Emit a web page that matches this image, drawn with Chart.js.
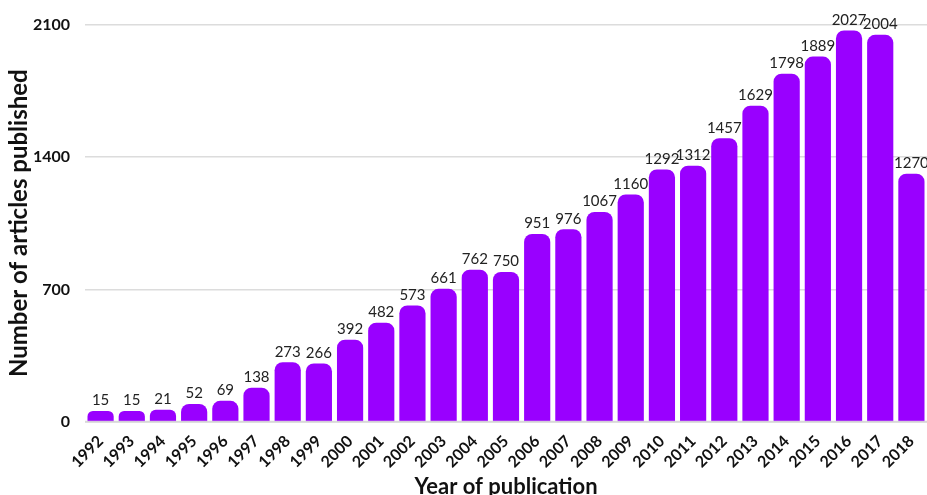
<!DOCTYPE html>
<html>
<head>
<meta charset="utf-8">
<title>Articles published per year</title>
<script src="https://cdn.jsdelivr.net/npm/chart.js@4.4.1/dist/chart.umd.min.js"></script>
<style>
  html, body { margin: 0; padding: 0; background: #fff; overflow: hidden; }
  #wrap { width: 927px; height: 495px; position: relative; }
</style>
</head>
<body>
<div id="wrap"><canvas id="articlesChart"></canvas></div>
<script>
// ── Data ───────────────────────────────────────────────────────
const years = ["1992","1993","1994","1995","1996","1997","1998","1999","2000","2001",
               "2002","2003","2004","2005","2006","2007","2008","2009","2010","2011",
               "2012","2013","2014","2015","2016","2017","2018"];
const articles = [15, 15, 21, 52, 69, 138, 273, 266, 392, 482,
                  573, 661, 762, 750, 951, 976, 1067, 1160, 1292, 1312,
                  1457, 1629, 1798, 1889, 2027, 2004, 1270];
const yTicks = [0, 700, 1400, 2100];

// ── Style ──────────────────────────────────────────────────────
const PURPLE = "#9900FF";
const FONT   = "Lato, 'Open Sans', sans-serif";
const LIFT   = 42;   // bars sit a little proud of the grid

// value labels above each bar
const valueLabels = {
  id: "valueLabels",
  afterDatasetsDraw(chart) {
    const { ctx } = chart;
    const meta = chart.getDatasetMeta(0);
    ctx.save();
    ctx.font = "400 15px " + FONT;
    ctx.fillStyle = "#222";
    ctx.textAlign = "center";
    ctx.textBaseline = "bottom";
    meta.data.forEach((bar, i) => {
      ctx.fillText(String(articles[i]), bar.x, bar.y - 3);
    });
    ctx.restore();
  }
};

// zero line drawn over the bars
const zeroLine = {
  id: "zeroLine",
  afterDatasetsDraw(chart) {
    const { ctx, chartArea, scales } = chart;
    const y = scales.y.getPixelForValue(0);
    ctx.save();
    ctx.strokeStyle = "rgba(215,215,215,0.9)";
    ctx.lineWidth = 2;
    ctx.beginPath();
    ctx.moveTo(chartArea.left, y);
    ctx.lineTo(chartArea.right, y);
    ctx.stroke();
    ctx.restore();
  }
};

new Chart(document.getElementById("articlesChart"), {
  type: "bar",
  data: {
    labels: years,
    datasets: [{
      data: articles,
      yAxisID: "yBar",
      backgroundColor: PURPLE,
      borderRadius: 8,
      borderSkipped: "start",
      base: -LIFT,
      barPercentage: 0.84,
      categoryPercentage: 1.0
    }]
  },
  options: {
    responsive: true,
    maintainAspectRatio: false,
    animation: false,
    layout: { padding: { top: 22, right: 0, left: 0, bottom: -5 } },
    plugins: { legend: { display: false }, tooltip: { enabled: false } },
    scales: {
      x: {
        grid: { display: false },
        border: { display: false },
        afterFit: axis => { axis.paddingLeft = 0; axis.paddingRight = 0; },
        ticks: {
          color: "#111",
          font: { family: FONT, size: 16, weight: "700" },
          maxRotation: 45, minRotation: 45,
          autoSkip: false,
          padding: 2
        },
        title: {
          display: true,
          text: "Year of publication",
          color: "#111",
          font: { family: FONT, size: 22, weight: "700" },
          padding: { top: 0, bottom: 0 }
        }
      },
      y: {
        min: 0, max: 2100,
        afterBuildTicks: axis => { axis.ticks = yTicks.map(v => ({ value: v })); },
        afterFit: axis => { axis.width = 85; },
        grid: { color: "#dcdcdc", lineWidth: 1.5, drawTicks: false },
        border: { display: false },
        ticks: {
          color: "#111",
          font: { family: FONT, size: 16, weight: "700" },
          padding: 15,
          callback: v => String(v)
        },
        title: {
          display: true,
          text: "Number of articles published",
          color: "#111",
          font: { family: FONT, size: 24, weight: "700" },
          padding: { top: 5, bottom: 0 }
        }
      },
      yBar: {
        display: false,
        min: -LIFT, max: 2100 - LIFT
      }
    }
  },
  plugins: [valueLabels, zeroLine]
});
</script>
</body>
</html>
